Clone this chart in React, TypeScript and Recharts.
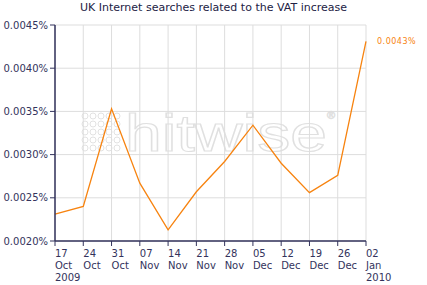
import React from "react";
import { LineChart, Line, XAxis, YAxis, CartesianGrid } from "recharts";

// Weekly dates (day, month, year shown only at the ends)
const days = ["17", "24", "31", "07", "14", "21", "28", "05", "12", "19", "26", "02"];
const months = ["Oct", "Oct", "Oct", "Nov", "Nov", "Nov", "Nov", "Dec", "Dec", "Dec", "Dec", "Jan"];
const years = ["2009", "", "", "", "", "", "", "", "", "", "", "2010"];

// Share of UK internet searches (%)
const searchShare = [
  0.00231, 0.0024, 0.00353, 0.00267, 0.00213, 0.00257, 0.00292, 0.00334, 0.0029, 0.00256,
  0.00276, 0.00431,
];

const yTicks = [0.002, 0.0025, 0.003, 0.0035, 0.004, 0.0045];

const data = days.map((d, i) => ({
  key: i,
  day: d,
  month: months[i],
  year: years[i],
  value: searchShare[i],
}));

const TEXT = "#33335c";
const ORANGE = "#f7830f";
const FONT = "Verdana, 'DejaVu Sans', sans-serif";

const XTick = (props: any) => {
  const { x, y, payload } = props;
  const row = data[payload.value];
  return (
    <text x={x} y={y + 9} fill={TEXT} fontSize={10} fontFamily={FONT} textAnchor="start">
      <tspan x={x}>{row.day}</tspan>
      <tspan x={x} dy={12}>{row.month}</tspan>
      {row.year && (
        <tspan x={x} dy={12}>
          {row.year}
        </tspan>
      )}
    </text>
  );
};

const EndLabel = (props: any) => {
  const { x, y, index } = props;
  if (index !== data.length - 1) return null;
  return (
    <text x={x + 11} y={y + 3} fill={ORANGE} fontSize={8} fontFamily={FONT} letterSpacing={0.5}>
      {searchShare[index].toFixed(4)}%
    </text>
  );
};

// faint watermark behind the plot
const Watermark = () => {
  const dots = [];
  for (let r = 0; r < 5; r++) {
    for (let c = 0; c < 5; c++) {
      dots.push(
        <circle key={`${r}-${c}`} cx={85 + c * 8} cy={116 + r * 8} r={3} fill="none" stroke="#e2e2e2" strokeWidth={1} />
      );
    }
  }
  return (
    <svg width={427} height={285} style={{ position: "absolute", left: 0, top: 0 }}>
      {dots}
      <text
        x={125}
        y={151}
        fontSize={52}
        fontFamily="Arial, 'Liberation Sans', sans-serif"
        fill="none"
        stroke="#e0e0e0"
        strokeWidth={1.2}
        textLength={202}
        lengthAdjust="spacingAndGlyphs"
      >
        hitwise
      </text>
      <text x={327} y={119} fontSize={11} fill="none" stroke="#e0e0e0" strokeWidth={0.8} fontFamily="Arial, sans-serif">
        ®
      </text>
    </svg>
  );
};

export default function App() {
  return (
    <div style={{ position: "absolute", left: 0, top: 0, width: 427, height: 285, background: "#fff" }}>
      <Watermark />
      <div
        style={{
          position: "absolute",
          top: 0,
          left: 0,
          width: 427,
          textAlign: "center",
          fontFamily: FONT,
          fontSize: 11,
          color: "#222244",
          lineHeight: "16px",
        }}
      >
        UK Internet searches related to the VAT increase
      </div>
      <div style={{ position: "absolute", left: 0, top: 0 }}>
        <LineChart width={427} height={285} data={data} margin={{ top: 25, right: 61, left: 0, bottom: 0 }}>
          <CartesianGrid stroke="#dddddd" strokeWidth={1} />
          <XAxis
            dataKey="key"
            height={44}
            tick={<XTick />}
            tickLine={{ stroke: TEXT }}
            tickSize={5}
            axisLine={{ stroke: TEXT, strokeWidth: 1.5 }}
            interval={0}
          />
          <YAxis
            width={55}
            domain={[0.002, 0.0045]}
            ticks={yTicks}
            tickFormatter={(v: number) => v.toFixed(4) + "%"}
            tick={{ fill: TEXT, fontSize: 10, fontFamily: FONT }}
            tickLine={{ stroke: TEXT }}
            tickSize={5}
            axisLine={{ stroke: TEXT, strokeWidth: 1.5 }}
          />
          <Line
            type="linear"
            dataKey="value"
            stroke={ORANGE}
            strokeWidth={1.3}
            dot={false}
            isAnimationActive={false}
            label={<EndLabel />}
          />
        </LineChart>
      </div>
    </div>
  );
}
